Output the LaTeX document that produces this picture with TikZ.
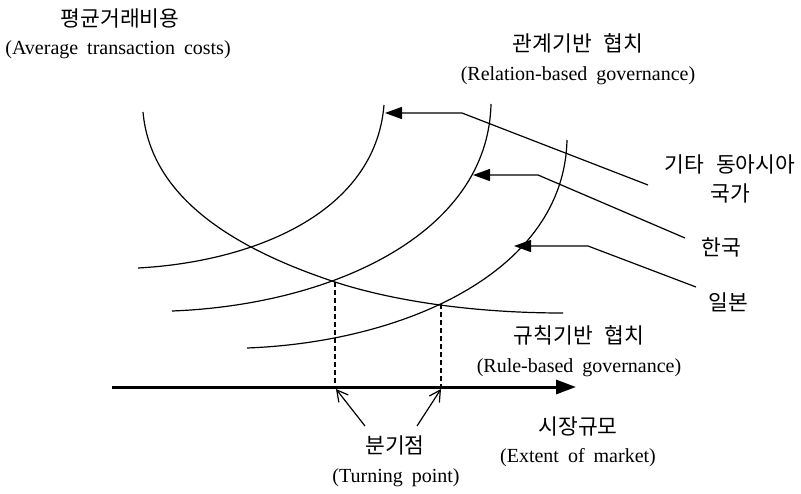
\documentclass[tikz,border=0pt]{standalone}
\usepackage{fontspec}
\setmainfont{Liberation Serif}
\newfontfamily\kr{Noto Sans CJK KR}
\usetikzlibrary{arrows.meta}
\newcommand{\wgap}{\hspace{0.45em}}
\newcommand{\kgap}{\hspace{0.55em}}
\tikzset{
  en/.style={inner sep=0pt, font=\fontsize{20}{23}\selectfont},
  ko/.style={inner sep=0pt, font=\kr\fontsize{21.5}{24}\selectfont},
  curve/.style={line width=1.2pt, line join=round},
  leader/.style={line width=1.2pt, line join=round, -{Triangle[length=17pt,width=12pt]}},
  axisline/.style={line width=3pt, -{Triangle[length=20pt,width=14pt]}},
  guide/.style={line width=1.1pt, dash pattern=on 5pt off 3pt},
  pointer/.style={line width=1.2pt, -{Straight Barb[length=11pt,width=12pt]}}
}
\begin{document}
\begin{tikzpicture}[x=1pt,y=-1pt]
\useasboundingbox (0,0) rectangle (801,493);

% curves
\draw[curve] (143,112) .. controls (150,190) and (220,244) .. (335,282)
                       .. controls (390,300) and (470,313) .. (563,313);
\draw[curve] (138,268) .. controls (250,262) and (375,215) .. (384,105);
\draw[curve] (172,311) .. controls (330,305) and (488,235) .. (491,104);
\draw[curve] (247,348) .. controls (406,342) and (564,271) .. (567,140);

% axis
\coordinate (ax0) at (112,387);
\coordinate (ax1) at (576,387);
\draw[axisline] (ax0) -- (ax1);

% turning points
\coordinate (tp1) at (335,282);
\coordinate (tp2) at (441,304);
\coordinate (tb1) at (335,387);
\coordinate (tb2) at (441,387);
\draw[guide] (tp1) -- (tb1);
\draw[guide] (tp2) -- (tb2);

% labels
\node[ko] (ytitle) at (120,18) {평균거래비용};
\node[en] (yeng) at (118,50) {(Average\wgap transaction\wgap costs)};
\node[ko] (rel) at (578,43) {관계기반\kgap 협치};
\node[en] (releng) at (578,76) {(Relation-based\wgap governance)};
\node[ko] (other) at (730,164) {기타\kgap 동아시아};
\node[ko] (other2) at (730,193) {국가};
\node[ko] (korea) at (721,247) {한국};
\node[ko] (japan) at (728,302) {일본};
\node[ko] (rule) at (579,335) {규칙기반\kgap 협치};
\node[en] (ruleeng) at (579,368) {(Rule-based\wgap governance)};
\node[ko] (mkt) at (578,426) {시장규모};
\node[en] (mkteng) at (578,458) {(Extent\wgap of\wgap market)};
\node[ko] (turn) at (395,445) {분기점};
\node[en] (turneng) at (396,478) {(Turning\wgap point)};

% leaders
\coordinate (l1s) at (648,185); \coordinate (l1b) at (462,113); \coordinate (l1t) at (385,113);
\coordinate (l2s) at (685,238); \coordinate (l2b) at (538,175); \coordinate (l2t) at (473,175);
\coordinate (l3s) at (696,287); \coordinate (l3b) at (588,246); \coordinate (l3t) at (514,246);
\draw[leader] (l1s) -- (l1b) -- (l1t);
\draw[leader] (l2s) -- (l2b) -- (l2t);
\draw[leader] (l3s) -- (l3b) -- (l3t);

% turning-point pointers
\coordinate (p1s) at (365,426); \coordinate (p1t) at (336,389);
\coordinate (p2s) at (417,426); \coordinate (p2t) at (441,389);
\draw[pointer] (p1s) -- (p1t);
\draw[pointer] (p2s) -- (p2t);
\end{tikzpicture}
\end{document}
